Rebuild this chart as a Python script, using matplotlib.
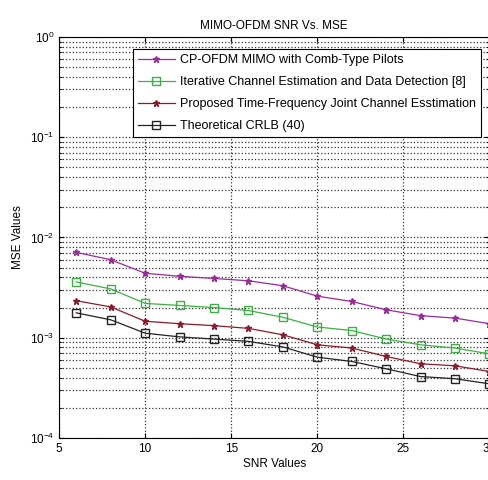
import matplotlib.pyplot as plt
import numpy as np

plt.rcParams['font.family'] = ['Liberation Sans', 'DejaVu Sans']

snr = [6, 8, 10, 12, 14, 16, 18, 20, 22, 24, 26, 28, 30]

mse_cp = [7.1e-3, 6.0e-3, 4.4e-3, 4.1e-3, 3.9e-3, 3.7e-3, 3.3e-3, 2.6e-3,
          2.3e-3, 1.9e-3, 1.66e-3, 1.57e-3, 1.38e-3]
mse_iter = [3.6e-3, 3.07e-3, 2.2e-3, 2.1e-3, 2.0e-3, 1.87e-3, 1.6e-3, 1.28e-3,
            1.18e-3, 9.7e-4, 8.5e-4, 7.9e-4, 6.9e-4]
mse_prop = [2.34e-3, 2.03e-3, 1.46e-3, 1.38e-3, 1.32e-3, 1.24e-3, 1.07e-3, 8.5e-4,
            7.9e-4, 6.5e-4, 5.5e-4, 5.25e-4, 4.6e-4]
mse_crlb = [1.77e-3, 1.51e-3, 1.11e-3, 1.02e-3, 9.7e-4, 9.2e-4, 8.1e-4, 6.4e-4,
            5.8e-4, 4.9e-4, 4.1e-4, 3.9e-4, 3.47e-4]

labels = ['CP-OFDM MIMO with Comb-Type Pilots',
          'Iterative Channel Estimation and Data Detection [8]',
          'Proposed Time-Frequency Joint Channel Esstimation',
          'Theoretical CRLB (40)']

fig = plt.figure(figsize=(4.88, 4.8), dpi=100)
ax = fig.add_axes([0.121, 0.0875, 0.882, 0.8355])

lw = 0.9
ax.semilogy(snr, mse_cp, '-*', color='#9a2a9a', lw=lw, ms=5, label=labels[0])
ax.semilogy(snr, mse_iter, '-s', color='#3cb043', lw=lw, ms=6, mfc='none', label=labels[1])
ax.semilogy(snr, mse_prop, '-*', color='#8b1a2a', lw=lw, ms=5, label=labels[2])
ax.semilogy(snr, mse_crlb, '-s', color='#222222', lw=lw, ms=6, mfc='none', label=labels[3])

ax.set_xlim(5, 30)
ax.set_ylim(1e-4, 1)
ax.set_xticks([5, 10, 15, 20, 25, 30])
ax.grid(True, which='major', axis='both', color='#333333', ls=':', lw=0.9)
ax.grid(True, which='minor', axis='y', color='#333333', ls=':', lw=0.9)
ax.tick_params(which='both', direction='in', labelsize=8.5, top=True, right=True)

ax.set_title('MIMO-OFDM SNR Vs. MSE', fontsize=8.5)
ax.set_xlabel('SNR Values', fontsize=8.5, labelpad=2)
ax.set_ylabel('MSE Values', fontsize=8.5)

leg = ax.legend(loc='upper right', bbox_to_anchor=(0.995, 0.985), fontsize=9,
                fancybox=False, framealpha=1, edgecolor='black',
                handlelength=3.0, handletextpad=0.4, borderpad=0.4,
                labelspacing=0.8)
leg.get_frame().set_linewidth(0.8)

fig.savefig('out.png', dpi=100)
